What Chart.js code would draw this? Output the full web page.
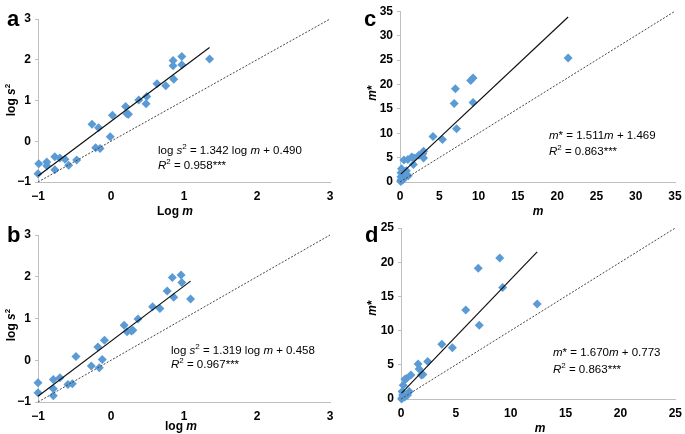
<!DOCTYPE html>
<html>
<head>
<meta charset="utf-8">
<script src="https://cdn.jsdelivr.net/npm/chart.js@4"></script>
<style>
  html, body { margin:0; padding:0; background:#fff; }
  body { width:685px; height:434px; position:relative; overflow:hidden; font-family:"Liberation Sans", Arial, sans-serif; }
  canvas { position:absolute; }
  .t { position:absolute; white-space:nowrap; color:#000; line-height:1; }
  .lab { font-weight:bold; font-size:22px; }
  .eq { font-size:11.5px; }
  .ax { font-weight:bold; font-size:12px; }
  .rot { transform:translate(-50%,-50%) rotate(-90deg); }
  .ctr { transform:translate(-50%,-50%); }
</style>
</head>
<body>
<canvas id="ca" style="left:0;top:0"></canvas>
<canvas id="cb" style="left:0;top:216px"></canvas>
<canvas id="cc" style="left:350px;top:0"></canvas>
<canvas id="cd" style="left:350px;top:216px"></canvas>

<div class="t lab" style="left:7px;top:8px">a</div>
<div class="t lab" style="left:7px;top:224px">b</div>
<div class="t lab" style="left:364px;top:8px">c</div>
<div class="t lab" style="left:365px;top:224px">d</div>

<div class="t ax ctr" style="left:175px;top:211px">Log <i>m</i></div>
<div class="t ax ctr" style="left:181px;top:426px">log <i>m</i></div>
<div class="t ax ctr" style="left:538px;top:211px"><i>m</i></div>
<div class="t ax ctr" style="left:540px;top:428px"><i>m</i></div>

<div class="t ax rot" style="left:10px;top:100px">log <i>s</i><sup style="font-size:8px">2</sup></div>
<div class="t ax rot" style="left:10px;top:325px">log <i>s</i><sup style="font-size:8px">2</sup></div>
<div class="t ax rot" style="left:372px;top:93px"><i>m</i>*</div>
<div class="t ax rot" style="left:372px;top:308px"><i>m</i>*</div>

<div class="t eq" style="left:158px;top:143px">log <i>s</i><sup style="font-size:8px">2</sup> = 1.342 log <i>m</i> + 0.490</div>
<div class="t eq" style="left:158px;top:158px"><i>R</i><sup style="font-size:8px">2</sup> = 0.958***</div>
<div class="t eq" style="left:171px;top:343px">log <i>s</i><sup style="font-size:8px">2</sup> = 1.319 log <i>m</i> + 0.458</div>
<div class="t eq" style="left:171px;top:357px"><i>R</i><sup style="font-size:8px">2</sup> = 0.967***</div>
<div class="t eq" style="left:549px;top:130px"><i>m</i>* = 1.511<i>m</i> + 1.469</div>
<div class="t eq" style="left:549px;top:144px"><i>R</i><sup style="font-size:8px">2</sup> = 0.863***</div>
<div class="t eq" style="left:553px;top:347px"><i>m</i>* = 1.670<i>m</i> + 0.773</div>
<div class="t eq" style="left:553px;top:362px"><i>R</i><sup style="font-size:8px">2</sup> = 0.863***</div>

<script>
// ---- Data ----
const aLogM  = [-1.00,-0.99,-0.88,-0.88,-0.77,-0.77,-0.70,-0.63,-0.58,-0.47,-0.26,-0.21,-0.17,-0.15,-0.01,0.02,0.20,0.22,0.24,0.38,0.49,0.48,0.63,0.75,0.85,0.85,0.86,0.97,0.97,1.35];
const aLogS2 = [-0.80,-0.55,-0.51,-0.60,-0.38,-0.70,-0.41,-0.44,-0.59,-0.46,0.42,-0.16,0.33,-0.18,0.11,0.64,0.85,0.67,0.66,1.01,1.10,0.92,1.41,1.36,1.98,1.85,1.52,2.08,1.88,2.02];

const bLogM  = [-1.00,-1.00,-0.79,-0.79,-0.79,-0.70,-0.59,-0.53,-0.48,-0.27,-0.18,-0.16,-0.12,-0.09,0.18,0.22,0.28,0.30,0.37,0.57,0.67,0.77,0.84,0.86,0.96,0.97,1.09];
const bLogS2 = [-0.78,-0.54,-0.46,-0.68,-0.85,-0.42,-0.58,-0.56,0.09,-0.14,0.32,-0.18,0.02,0.48,0.84,0.68,0.70,0.72,0.99,1.28,1.24,1.66,1.98,1.51,2.04,1.86,1.47];

const cM     = [0.10,0.10,0.13,0.13,0.17,0.20,0.23,0.30,0.35,0.50,0.60,0.70,0.80,1.00,1.05,1.50,1.70,1.80,2.40,2.90,3.00,3.00,4.20,5.40,6.90,7.05,7.20,9.00,9.30,9.30,21.40];
const cMstar = [0.10,0.30,1.10,1.90,0.50,2.70,1.20,0.80,0.40,4.50,1.40,1.00,2.30,4.60,1.30,5.10,3.60,4.90,5.50,5.80,4.90,6.30,9.30,8.70,16.10,19.10,10.90,20.80,21.30,16.30,25.40];

const dM     = [0.05,0.10,0.15,0.10,0.20,0.35,0.36,0.50,0.60,0.75,0.90,1.56,1.65,1.86,2.00,2.43,3.72,4.68,5.90,7.04,7.13,9.00,9.26,12.41];
const dMstar = [0.00,0.20,0.60,1.10,2.00,0.30,2.90,3.00,0.60,1.10,3.50,5.10,4.40,3.50,3.60,5.50,8.00,7.50,13.00,19.10,10.80,20.60,16.30,13.90];

// regression coefficients (from the printed equations)
const aFit = [1.342, 0.490];
const bFit = [1.319, 0.458];
const cFit = [1.511, 1.469];
const dFit = [1.670, 0.773];

// axis tick settings [min, max, step]
const aTicks = [-1, 3, 1];
const bTicks = [-1, 3, 1];
const cTicks = [0, 35, 5];
const dTicks = [0, 25, 5];

const pointColor = '#5B9BD5';
const axisColor = '#BFBFBF';

function pts(xs, ys){ return xs.map((x,i)=>({x:x, y:ys[i]})); }
function fitLine(xs, fit){
  const lo = Math.min(...xs), hi = Math.max(...xs);
  return [{x:lo, y:fit[0]*lo+fit[1]}, {x:hi, y:fit[0]*hi+fit[1]}];
}

function make(id, w, h, pad, yW, xH, xs, ys, fit, ticks){
  const cv = document.getElementById(id);
  cv.width = w; cv.height = h; cv.style.width = w+'px'; cv.style.height = h+'px';
  const fmt = v => (v < 0 ? '\u2212' + Math.abs(v) : String(v));
  const tickFont = {family:'"Liberation Sans", Arial, sans-serif', size:12, weight:'bold'};
  new Chart(cv, {
    type: 'scatter',
    data: { datasets: [
      { type:'line', data: fitLine(xs, fit), borderColor:'#111', borderWidth:1.2, pointRadius:0, fill:false, clip:false },
      { type:'line', data: [{x:ticks[0], y:ticks[0]}, {x:ticks[1], y:ticks[1]}], borderColor:'#444', borderWidth:1, borderDash:[2,1.6], pointRadius:0, fill:false, clip:false },
      { data: pts(xs, ys), pointStyle:'rectRot', pointRadius:4.5, backgroundColor:pointColor, borderColor:pointColor, borderWidth:0, clip:false }
    ]},
    options: {
      responsive:false, animation:false, devicePixelRatio:1,
      layout:{ padding: pad },
      plugins:{ legend:{display:false}, tooltip:{enabled:false} },
      scales:{
        x:{ type:'linear', min:ticks[0], max:ticks[1],
            ticks:{ stepSize:ticks[2], color:'#000', font:tickFont, padding:3, callback:fmt, maxRotation:0 },
            grid:{ display:false, tickLength:4 },
            border:{ display:true, color:axisColor, width:1 },
            afterFit: s => { s.height = xH; } },
        y:{ type:'linear', min:ticks[0], max:ticks[1],
            ticks:{ stepSize:ticks[2], color:'#000', font:tickFont, padding:4, callback:fmt },
            grid:{ display:true, drawOnChartArea:false, color:axisColor, tickLength:3 },
            border:{ display:true, color:axisColor, width:1 },
            afterFit: s => { s.width = yW; } }
      }
    }
  });
}

make('ca', 342, 205, {left:0, top:19, right:12, bottom:0}, 38, 23, aLogM, aLogS2, aFit, aTicks);
make('cb', 342, 209, {left:0, top:19, right:12, bottom:0}, 38, 23, bLogM, bLogS2, bFit, bTicks);
make('cc', 335, 205, {left:0, top:6, right:10, bottom:0}, 50, 23, cM, cMstar, cFit, cTicks);
make('cd', 335, 206, {left:0, top:12, right:6, bottom:0}, 51, 23, dM, dMstar, dFit, dTicks);
</script>
</body>
</html>
